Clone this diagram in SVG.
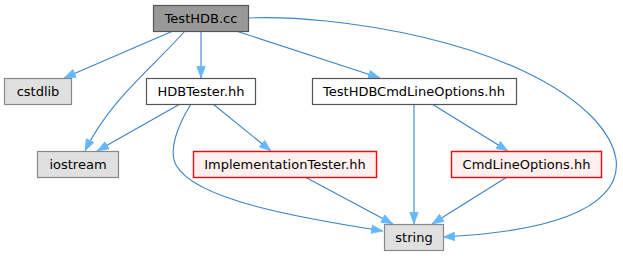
<svg xmlns="http://www.w3.org/2000/svg" width="623" height="256" viewBox="0 0 623 256">
  <style>
    .node rect { stroke-width: 1.2; }
    .node text { font-family: "DejaVu Sans", "Liberation Sans", sans-serif; font-size: 13px; fill: #000; text-anchor: middle; }
    .main rect { fill: #999999; stroke: #555555; }
    .sys rect { fill: #e0e0e0; stroke: #888888; }
    .local rect { fill: #ffffff; stroke: #555555; }
    .missing rect { fill: #fff0f0; stroke: #ff0000; stroke-width: 1.4; }
    .edges path { fill: none; stroke: #3d83c6; stroke-width: 1.1; }
  </style>
  <defs>
    <marker id="arrow" viewBox="0 0 12 10" refX="12" refY="5" markerWidth="12" markerHeight="10" markerUnits="userSpaceOnUse" orient="auto">
      <path d="M0.5,0.8 L11.5,5 L0.5,9.2 Z" fill="#63b8ff" stroke="#63b8ff" stroke-width="0.8"/>
    </marker>
  </defs>

  <g class="edges" marker-end="url(#arrow)">
    <path d="M173,31 L64,78"/>
    <path d="M185,31 C150,70 110,100 85,151"/>
    <path d="M201,31 L201,78"/>
    <path d="M236,31 L380,78"/>
    <path d="M248,18 C330,14 520,40 595,120 C640,170 625,228 443,237"/>
    <path d="M180,104 L97,151"/>
    <path d="M213,104 L271,151"/>
    <path d="M191,104 C178,125 168,150 176,165 C195,200 300,218 383,231"/>
    <path d="M305,177 L393,224"/>
    <path d="M414,104 L414,224"/>
    <path d="M432,104 L508,151"/>
    <path d="M507,177 L432,224"/>
  </g>

  <g id="node-testhdb" class="node main">
    <rect x="153.5" y="5.5" width="95" height="26"/>
    <text x="201" y="23">TestHDB.cc</text>
  </g>
  <g id="node-cstdlib" class="node sys">
    <rect x="4.5" y="78.5" width="67" height="26"/>
    <text x="38" y="96">cstdlib</text>
  </g>
  <g id="node-hdbtester" class="node local">
    <rect x="146.5" y="78.5" width="109" height="26"/>
    <text x="201" y="96">HDBTester.hh</text>
  </g>
  <g id="node-cmdlineoptions-main" class="node local">
    <rect x="312.5" y="78.5" width="204" height="26"/>
    <text x="414" y="96">TestHDBCmdLineOptions.hh</text>
  </g>
  <g id="node-iostream" class="node sys">
    <rect x="37.5" y="151.5" width="81" height="26"/>
    <text x="78" y="169">iostream</text>
  </g>
  <g id="node-impltester" class="node missing">
    <rect x="193.5" y="151.5" width="183" height="26"/>
    <text x="285" y="169">ImplementationTester.hh</text>
  </g>
  <g id="node-cmdlineoptions" class="node missing">
    <rect x="451.5" y="151.5" width="150" height="26"/>
    <text x="526.5" y="169">CmdLineOptions.hh</text>
  </g>
  <g id="node-string" class="node sys">
    <rect x="384.5" y="224.5" width="59" height="26"/>
    <text x="414" y="242">string</text>
  </g>
</svg>
